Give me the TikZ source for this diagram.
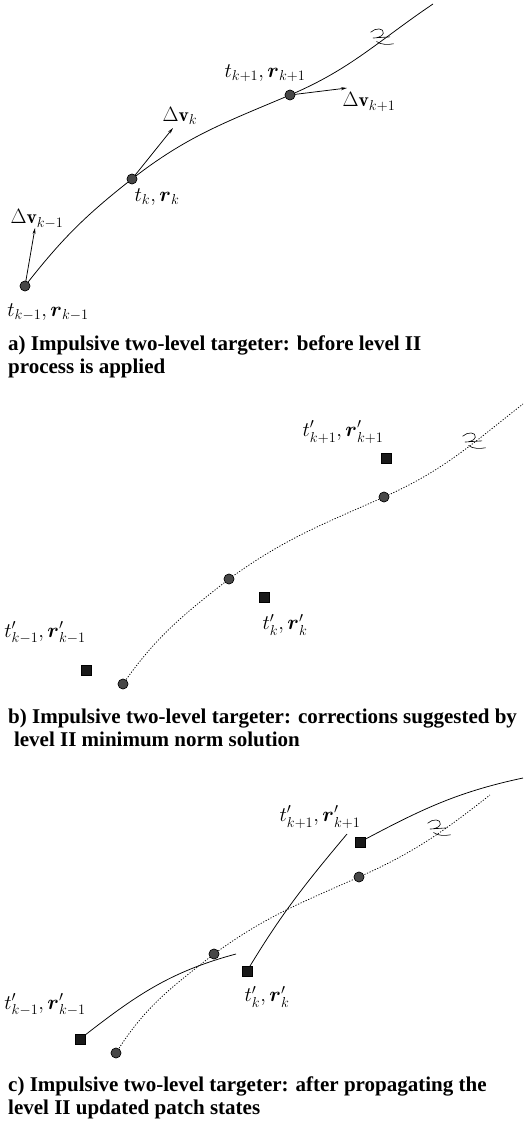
\documentclass[tikz,border=0pt]{standalone}
\usepackage{amsmath,amssymb}
\usepackage{fontspec}
\newfontfamily\capfont{Liberation Serif}
\usetikzlibrary{arrows.meta}
\tikzset{
  pt/.style={circle,draw=black,fill=black!72,inner sep=0pt,minimum size=10pt,line width=0.5pt},
  sq/.style={rectangle,fill=black!90,draw=black,inner sep=0pt,minimum size=10.5pt},
  traj/.style={line width=0.75pt},
  dtraj/.style={line width=0.75pt,dash pattern=on 1.2pt off 1.6pt},
  vec/.style={line width=0.75pt,-{Stealth[length=6pt,width=3pt]}},
  lab/.style={font=\fontsize{19.5}{21}\selectfont,inner sep=0pt},
  captxt/.style={font=\capfont\bfseries\fontsize{21}{23}\selectfont,inner sep=0pt,anchor=base west,align=left},
  brk/.pic={\draw[line width=0.6pt] (-9,5) .. controls (-5,9) and (3,9) .. (2,4) .. controls (1,1) and (-4,0) .. (-6,0)
     (-7,0) -- (8,1) (-4,-3) .. controls (0,-6) and (6,-6) .. (11,-5);}
}
\begin{document}
\begin{tikzpicture}[x=1pt,y=1pt]
\useasboundingbox (0,0) rectangle (523,-1121);
% ---------- panel a
\node[pt] (a1) at (25,-286) {};
\node[pt] (a2) at (132,-179) {};
\node[pt] (a3) at (290,-95) {};
\coordinate (aend) at (433,-4);
\draw[traj] (a1.center) to[out=52,in=218] (a2.center) to[out=38,in=203] (a3.center) to[out=23,in=214] (aend);
\coordinate (va1) at (35,-228);
\coordinate (va2) at (173,-128);
\coordinate (va3) at (347,-88);
\draw[vec] (a1.center) -- (va1);
\draw[vec] (a2.center) -- (va2);
\draw[vec] (a3.center) -- (va3);
\pic[scale=1.15] at (381,-38) {brk};
\node[pt] at (a1) {};\node[pt] at (a2) {};\node[pt] at (a3) {};
\node[lab] (la1) at (48,-312) {$t_{k-1},\boldsymbol{r}_{k-1}$};
\node[lab] (lv1) at (37,-219) {$\Delta\mathbf{v}_{k-1}$};
\node[lab] (la2) at (157,-197) {$t_{k},\boldsymbol{r}_{k}$};
\node[lab] (lv2) at (180,-116) {$\Delta\mathbf{v}_{k}$};
\node[lab] (la3) at (265,-73) {$t_{k+1},\boldsymbol{r}_{k+1}$};
\node[lab] (lv3) at (369,-102) {$\Delta\mathbf{v}_{k+1}$};
\node[captxt] (capa) at (8,-373) {a) Impulsive two-level targeter: before level II\\process is applied};
% ---------- panel b
\node[pt] (b1) at (123,-684) {};
\node[pt] (b2) at (229,-579) {};
\node[pt] (b3) at (384,-497) {};
\coordinate (bend) at (523,-404);
\draw[dtraj] (b1.center) to[out=55,in=218] (b2.center) to[out=36,in=204] (b3.center) to[out=24,in=218] (bend);
\pic[scale=1.15] at (473,-442) {brk};
\node[pt] at (b1) {};\node[pt] at (b2) {};\node[pt] at (b3) {};
\node[sq] (s1) at (86,-670) {};
\node[sq] (s2) at (264,-597) {};
\node[sq] (s3) at (386,-458) {};
\node[lab] (lb1) at (45,-633) {$t'_{k-1},\boldsymbol{r}'_{k-1}$};
\node[lab] (lb2) at (285,-625) {$t'_{k},\boldsymbol{r}'_{k}$};
\node[lab] (lb3) at (343,-432) {$t'_{k+1},\boldsymbol{r}'_{k+1}$};
\node[captxt] (capb) at (8,-746) {b) Impulsive two-level targeter: corrections suggested by\\\hphantom{l}level II minimum norm solution};
% ---------- panel c
\node[pt] (c1) at (116,-1053) {};
\node[pt] (c2) at (214,-954) {};
\node[pt] (c3) at (359,-877) {};
\coordinate (cend) at (490,-795);
\draw[dtraj] (c1.center) to[out=58,in=218] (c2.center) to[out=36,in=204] (c3.center) to[out=24,in=218] (cend);
\pic[scale=1.15] at (438,-829) {brk};
\node[pt] at (c1) {};\node[pt] at (c2) {};\node[pt] at (c3) {};
\coordinate (e1) at (236,-954);
\coordinate (e2) at (347,-834);
\coordinate (e3) at (523,-778);
\node[sq] (t1) at (80,-1039) {};
\node[sq] (t2) at (247,-971) {};
\node[sq] (t3) at (360,-842) {};
\draw[traj] (t1.center) to[out=38,in=195] (e1);
\draw[traj] (t2.center) to[out=59,in=230] (e2);
\draw[traj] (t3.center) to[out=28,in=192] (e3);
\node[sq] at (t1) {};\node[sq] at (t2) {};\node[sq] at (t3) {};
\node[lab] (lc1) at (45,-1005) {$t'_{k-1},\boldsymbol{r}'_{k-1}$};
\node[lab] (lc2) at (267,-997) {$t'_{k},\boldsymbol{r}'_{k}$};
\node[lab] (lc3) at (320,-817) {$t'_{k+1},\boldsymbol{r}'_{k+1}$};
\node[captxt] (capc) at (8,-1114) {c) Impulsive two-level targeter: after propagating the\\level II updated patch states};
\end{tikzpicture}
\end{document}
